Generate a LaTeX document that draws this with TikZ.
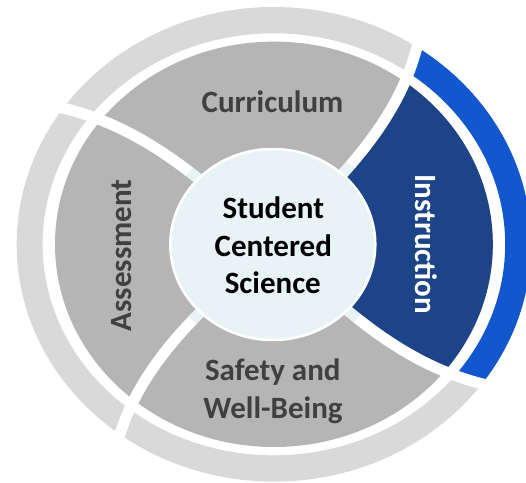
\documentclass[tikz,border=0pt]{standalone}
\usepackage{fontspec}
\setmainfont{Carlito}
\definecolor{seggray}{HTML}{B5B5B5}
\definecolor{ringgray}{HTML}{D9D9D9}
\definecolor{instblue}{HTML}{1D4489}
\definecolor{ringblue}{HTML}{1257CD}
\definecolor{centerfill}{HTML}{E8F3F5}
\definecolor{labelgray}{HTML}{404040}
\tikzset{
  declare function={
    sepf(\r)=0.0272*(\r-100)+0.000229*(\r-100)*(\r-100);
    sx(\r,\t)=273.9+1.079*\r*cos(\t+sepf(\r));
    sy(\r,\t)=244.3-\r*sin(\t+sepf(\r));
  },
  lbl/.style={font=\fontsize{31}{37}\selectfont\bfseries, inner sep=0pt, text=labelgray},
  ctr/.style={font=\fontsize{31}{37}\selectfont\bfseries, inner sep=0pt, text=black},
  sepline/.style={white, line width=11pt, line cap=butt},
  seppatch/.style={centerfill, line width=11pt, line cap=butt},
}
\begin{document}
\begin{tikzpicture}[x=1pt,y=-1pt]
\useasboundingbox (0,0) rectangle (526,482);
% base gray segments and ring
\fill[seggray] (273.9,244.3) ellipse [x radius=218.9, y radius=202.7];
\fill[ringgray, even odd rule] (273.9,244.3) ellipse [x radius=257.2, y radius=237.3]
  (273.9,244.3) ellipse [x radius=231.3, y radius=211];
% instruction sector
\begin{scope}
\clip (273.9,244.3) -- plot[domain=80:300,samples=40,variable=\r] ({sx(\r,48)},{sy(\r,48)})
  -- (720,-60) -- (720,540)
  -- plot[domain=300:80,samples=40,variable=\r] ({sx(\r,316)},{sy(\r,316)}) -- cycle;
\fill[instblue] (273.9,244.3) ellipse [x radius=218.9, y radius=202.7];
\fill[ringblue, even odd rule] (273.9,244.3) ellipse [x radius=257.2, y radius=237.3]
  (273.9,244.3) ellipse [x radius=231.3, y radius=211];
\end{scope}
% separators
\foreach \t in {48,137,225,316}{
  \draw[seppatch] plot[domain=88:108,samples=8,smooth,variable=\r] ({sx(\r,\t)},{sy(\r,\t)});
  \draw[sepline] plot[domain=107:265,samples=40,smooth,variable=\r] ({sx(\r,\t)},{sy(\r,\t)});
}
% center circle
\fill[centerfill, draw=white, line width=2.5pt] (272.8,244.5) ellipse [x radius=102.5, y radius=95.5];
% labels
\node[lbl, anchor=base] (cur) at (272.5,112.7) {Curriculum};
\node[lbl, anchor=base] (saf1) at (272.8,380) {Safety and};
\node[lbl, anchor=base] (saf2) at (273,418.3) {Well-Being};
\node[lbl, anchor=base, rotate=90] (ass) at (131.7,255.5) {Assessment};
\node[lbl, anchor=base, rotate=-90, text=white] (ins) at (415,244.2) {Instruction};
\node[ctr, anchor=base] (c1) at (273.3,218.3) {Student};
\node[ctr, anchor=base] (c2) at (273.3,256) {Centered};
\node[ctr, anchor=base] (c3) at (272.8,293.3) {Science};
\end{tikzpicture}
\end{document}
